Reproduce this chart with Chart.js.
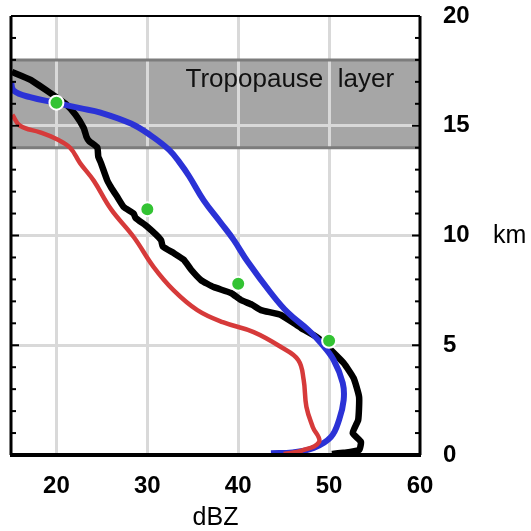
<!DOCTYPE html>
<html><head><meta charset="utf-8">
<script src="https://cdn.jsdelivr.net/npm/chart.js@4/dist/chart.umd.min.js"></script>
<style>html,body{margin:0;padding:0;background:#fff}#wrap{width:531px;height:531px}</style>
</head><body><div id="wrap"><canvas id="c" width="531" height="531"></canvas></div>
<script>
const xTicks=[20,30,40,50,60];
const yTicks=[0,5,10,15,20];
const blackDbz=[15.1,17.1,19.3,21.0,22.1,23.0,23.3,23.6,24.5,24.6,24.9,25.6,26.0,26.7,27.4,28.5,28.7,30.0,31.5,31.7,32.9,34.0,34.8,35.9,37.3,39.2,40.3,41.5,42.5,44.7,46.9,48.8,50.2,51.6,52.7,53.3,53.2,52.6,53.5,53.3,51.6,50.3];
const blackKm=[17.45,17.1,16.5,16.0,15.5,14.9,14.5,14.3,14.0,13.6,13.3,12.5,12.2,11.75,11.3,11.0,10.8,10.4,9.8,9.5,9.2,8.9,8.45,7.97,7.65,7.38,7.06,6.85,6.6,6.38,5.79,5.33,4.78,4.19,3.5,2.64,1.6,1.0,0.6,0.23,0.1,0.05];
const blueDbz=[15.0,15.3,17.1,20.0,22.6,24.85,28.2,30.4,32.4,33.6,34.6,36.2,38.1,39.5,41.05,43.6,45.5,47.7,49.1,50.5,51.5,51.6,51.1,50.2,48.3,46.0,43.6];
const blueKm=[17.0,16.6,16.3,16.04,15.8,15.6,15.1,14.55,13.9,13.3,12.7,11.6,10.57,9.8,8.8,7.38,6.47,5.7,5.1,4.33,3.28,2.5,1.6,0.82,0.32,0.12,0.08];
const redDbz=[15.15,16.0,18.2,20.0,21.5,22.6,24.1,26.0,28.5,30.7,32.9,35.5,38.3,41.7,44.7,46.6,47.2,47.5,48.2,48.9,47.0,45.0];
const redKm=[15.5,15.0,14.7,14.4,14.0,13.3,12.5,11.2,9.93,8.56,7.5,6.6,6.05,5.6,4.92,4.33,3.42,2.2,1.28,0.6,0.2,0.05];
const greenDbz=[20,30,40,50];
const greenKm=[16.05,11.2,7.8,5.2];
const bandKm=[14,18];
const bandLabel='Tropopause  layer';
const xTitle='dBZ';
const yUnit='km';

const pts=(xs,ys)=>xs.map((v,i)=>({x:v,y:ys[i]}));
const FONT='"Liberation Sans", Arial, sans-serif';

const deco={
  id:'deco',
  beforeDraw(chart){
    const {ctx,chartArea:a,scales:{y}}=chart;
    ctx.save();
    ctx.fillStyle='#fff';ctx.fillRect(0,0,chart.width,chart.height);
    const t=y.getPixelForValue(bandKm[1]),b=y.getPixelForValue(bandKm[0]);
    ctx.fillStyle='#a6a6a6';ctx.fillRect(a.left,t,a.right-a.left,b-t);
    ctx.restore();
  },
  beforeDatasetsDraw(chart){
    const {ctx,chartArea:a,scales:{x,y}}=chart;
    ctx.save();
    const t=y.getPixelForValue(bandKm[1]),b=y.getPixelForValue(bandKm[0]);
    ctx.strokeStyle='#7c7c7c';ctx.lineWidth=3;
    ctx.beginPath();ctx.moveTo(a.left,t);ctx.lineTo(a.right,t);ctx.moveTo(a.left,b);ctx.lineTo(a.right,b);ctx.stroke();
    ctx.fillStyle='#111';ctx.font='26px '+FONT;ctx.textAlign='left';ctx.textBaseline='middle';
    ctx.fillText(bandLabel,x.getPixelForValue(34.2),y.getPixelForValue(17.1));
    ctx.restore();
  },
  afterDraw(chart){
    const {ctx,chartArea:a,scales:{x,y}}=chart;
    ctx.save();
    ctx.strokeStyle='#000';
    ctx.lineWidth=3;
    ctx.beginPath();ctx.moveTo(a.left,a.top);ctx.lineTo(a.left,a.bottom);ctx.stroke();
    ctx.beginPath();ctx.moveTo(a.right,a.top);ctx.lineTo(a.right,a.bottom);ctx.stroke();
    ctx.lineWidth=4;
    ctx.beginPath();ctx.moveTo(a.left-1,a.bottom);ctx.lineTo(a.right+1,a.bottom);ctx.stroke();
    ctx.lineWidth=2;
    ctx.beginPath();ctx.moveTo(a.left,a.top);ctx.lineTo(a.right,a.top);ctx.stroke();
    ctx.lineWidth=2;
    for(let k=1;k<20;k++){
      const py=y.getPixelForValue(k);
      const len=(k%5===0)?8:5;
      ctx.beginPath();ctx.moveTo(a.left,py);ctx.lineTo(a.left+len,py);ctx.stroke();
      ctx.beginPath();ctx.moveTo(a.right,py);ctx.lineTo(a.right-len,py);ctx.stroke();
    }
    ctx.fillStyle='#000';ctx.font='25px '+FONT;ctx.textAlign='left';ctx.textBaseline='middle';
    ctx.fillText(yUnit,493,y.getPixelForValue(10)+1);
    ctx.restore();
  }
};

const gridColor=(ctx,inner)=>inner.includes(ctx.tick&&ctx.tick.value)?'#d9d9d9':'rgba(0,0,0,0)';

new Chart(document.getElementById('c'),{
  type:'scatter',
  data:{datasets:[
    {label:'points',data:pts(greenDbz,greenKm),pointRadius:7,pointBackgroundColor:'#33c333',pointBorderColor:'#fff',pointBorderWidth:2,showLine:false,order:0},
    {label:'red',data:pts(redDbz,redKm),showLine:true,borderColor:'#d63a3a',borderWidth:4.5,pointRadius:0,tension:0.4,order:1},
    {label:'blue',data:pts(blueDbz,blueKm),showLine:true,borderColor:'#2b32d6',borderWidth:6,pointRadius:0,tension:0.4,order:2},
    {label:'black',data:pts(blackDbz,blackKm),showLine:true,borderColor:'#000',borderWidth:6.5,pointRadius:0,tension:0.15,borderJoinStyle:'round',order:3}
  ]},
  options:{
    responsive:false,animation:false,
    layout:{padding:{left:11,top:16,right:0,bottom:0}},
    plugins:{legend:{display:false},tooltip:{enabled:false}},
    scales:{
      x:{type:'linear',position:'bottom',min:15,max:60,
        afterBuildTicks:s=>{s.ticks=xTicks.map(v=>({value:v}));},
        afterFit:s=>{s.height=76;s.paddingLeft=0;s.paddingRight=0;},
        grid:{color:c=>gridColor(c,[20,30,40,50]),lineWidth:3,drawTicks:false},
        border:{display:false},
        ticks:{color:'#000',font:{family:FONT,size:24,weight:'bold'},padding:17,maxRotation:0},
        title:{display:true,text:xTitle,color:'#000',font:{family:FONT,size:25,lineHeight:1},padding:{top:0,bottom:0}}
      },
      y:{type:'linear',position:'right',min:0,max:20,
        afterBuildTicks:s=>{s.ticks=yTicks.map(v=>({value:v}));},
        afterFit:s=>{s.width=111;s.paddingTop=0;s.paddingBottom=0;},
        grid:{color:c=>gridColor(c,[5,10,15]),lineWidth:3,drawTicks:false},
        border:{display:false},
        ticks:{color:'#000',font:{family:FONT,size:24,weight:'bold'},padding:23}
      }
    }
  },
  plugins:[deco]
});
</script></body></html>
